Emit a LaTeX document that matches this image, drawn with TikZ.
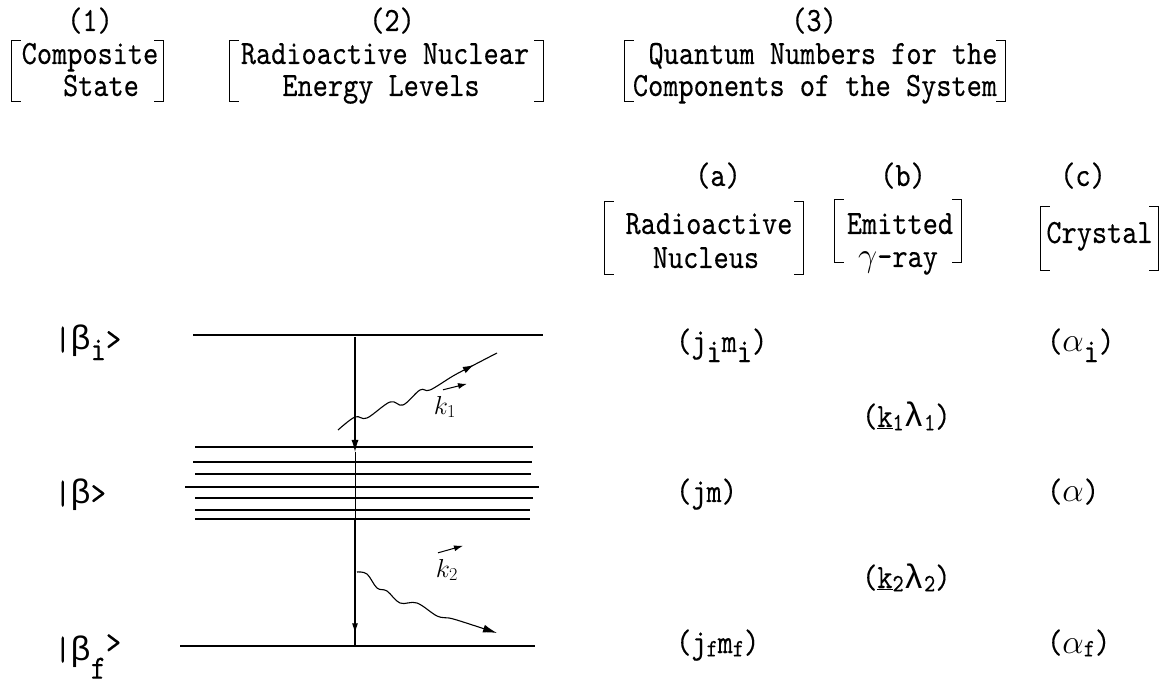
\RequirePackage{fix-cm}
\documentclass[tikz,border=0pt]{standalone}
\usepackage{fontspec}
\newfontfamily\tw{lmmono10-regular.otf}[FakeStretch=0.85,FakeBold=0.25]
\newfontfamily\grk{Liberation Mono}
\usetikzlibrary{arrows.meta,decorations.markings}
\newcommand\lowr[1]{\raisebox{-0.3em}{#1}}
\newcommand\lows[1]{\raisebox{-0.1em}{\fontsize{25}{25}\selectfont #1}}
\newcommand\drawbrk[1]{%
  \draw[brk] ([xshift=9pt]#1.north west) -- (#1.north west) -- (#1.south west) -- ([xshift=9pt]#1.south west);
  \draw[brk] ([xshift=-9pt]#1.north east) -- (#1.north east) -- (#1.south east) -- ([xshift=-9pt]#1.south east);}
\begin{document}
\begin{tikzpicture}[x=1pt,y=-1pt,
  tx/.style={font=\tw\fontsize{34}{34}\selectfont, inner sep=0pt, anchor=base},
  bx/.style={inner sep=0pt, minimum width=#1},
  brk/.style={line width=1pt},
  lvl/.style={line width=1.6pt},
  lvlc/.style={line width=2.1pt},
  trans/.style={line width=1.1pt},
  wave/.style={line width=1.1pt},
  hand/.style={font=\fontsize{26}{26}\selectfont, inner sep=0pt},
]
\useasboundingbox (0,0) rectangle (1171,684);

% ---- headers
\node[tx] (h1) at (90,31) {(1)};
\node[bx=151pt, minimum height=60pt] (b1) at (87.5,71) {};
\drawbrk{b1}
\node[tx] (b1a) at (90,64) {Composite};
\node[tx] (b1b) at (101,96) {State};

\node[tx] (h2) at (392,31) {(2)};
\node[bx=313pt, minimum height=60pt] (b2) at (386.5,71) {};
\drawbrk{b2}
\node[tx] (b2a) at (385,64) {Radioactive Nuclear};
\node[tx] (b2b) at (381,96) {Energy Levels};

\node[tx] (h3) at (814,31) {(3)};
\node[bx=380pt, minimum height=60pt] (b3) at (815,71) {};
\drawbrk{b3}
\node[tx] (b3a) at (823,64) {Quantum Numbers for the};
\node[tx] (b3b) at (815,96) {Components of the System};

% ---- column headers
\node[tx] (ha) at (718,186) {(a)};
\node[bx=198pt, minimum height=72pt] (ba) at (704,238) {};
\drawbrk{ba}
\node[tx] (baa) at (709,234) {Radioactive};
\node[tx] (bab) at (706,268) {Nucleus};

\node[tx] (hb) at (903,186) {(b)};
\node[bx=126pt, minimum height=62pt] (bb) at (898,231) {};
\drawbrk{bb}
\node[tx] (bba) at (900,234) {Emitted};
\node[tx] (bbb) at (898,267) {$\gamma$-ray};

\node[tx] (hc) at (1083,186) {(c)};
\node[bx=117pt, minimum height=63pt] (bc) at (1099.5,238.5) {};
\drawbrk{bc}
\node[tx] (bca) at (1099.5,243) {Crystal};

% ---- state labels
\node[tx, anchor=base west] (si) at (55,350) {|{\grk β}\lowr{i}>};
\node[tx, anchor=base west] (sm) at (55,504) {|{\grk β}>};
\node[tx, anchor=base west] (sf) at (55,660) {|{\grk β}\raisebox{-0.55em}{f}\raisebox{0.2em}{>}};

% ---- quantum numbers
\node[tx, anchor=base west] (ji) at (676,352) {(j\lowr{i}m\lowr{i})};
\node[tx, anchor=base west] (ai) at (1047,352) {($\alpha$\lowr{i})};
\node[tx, anchor=base west] (k1) at (862,427) {(\underline{k}\lows{1}{\grk λ}\lows{1})};
\node[tx, anchor=base west] (jm) at (676,502) {(jm)};
\node[tx, anchor=base west] (am) at (1047,502) {($\alpha$)};
\node[tx, anchor=base west] (k2) at (862,588) {(\underline{k}\lows{2}{\grk λ}\lows{2})};
\node[tx, anchor=base west] (jf) at (676,653) {(j\lows{f}m\lows{f})};
\node[tx, anchor=base west] (af) at (1047,653) {($\alpha$\lows{f})};

% ---- energy levels
\coordinate (Li) at (193,335); \coordinate (Ri) at (543,335);
\draw[lvl] (Li) -- (Ri);
\foreach \y/\a/\b [count=\n] in {447/195/533, 462/193/532, 474/195/531, 487/185/539, 498/195/533, 510/195/530} {
  \coordinate (cl\n) at (\a,\y); \coordinate (cr\n) at (\b,\y);
  \draw[lvlc] (cl\n) -- (cr\n);
}
\coordinate (cl7) at (195,519); \coordinate (cr7) at (530,519);
\draw[line width=1.3pt] (cl7) -- (cr7);
\coordinate (Lf) at (180,646); \coordinate (Rf) at (535,646);
\draw[lvl] (Lf) -- (Rf);

% ---- transitions
\coordinate (t1) at (355,337);
\coordinate (t2) at (355,452);
\coordinate (t3) at (355,519);
\coordinate (t4) at (355,646);
\draw[trans, -{Latex[length=12pt,width=7pt]}] (t1) -- (t2);
\draw[line width=0.7pt] (t2) -- (t3);
\draw[trans, postaction={decorate}, decoration={markings, mark=at position 0.9 with {\arrow{Latex[length=10pt,width=6pt]}}}] (t3) -- (t4);

% ---- photon 1
\coordinate (g1s) at (338,430);
\coordinate (g1e) at (497,353);
\draw[wave, postaction={decorate}, decoration={markings, mark=at position 0.86 with {\arrow{Latex[length=11pt,width=7pt]}}}]
  plot[smooth, tension=0.6] coordinates {(g1s) (355,417) (367,418) (390,402) (403,405) (420,390) (430,390) (453,376) (470,367) (g1e)};
\node[hand] (kl1) at (445,407) {$k_1$};
\draw[line width=1pt, -{Latex[length=9pt,width=6pt]}] ([shift={(-2,-6)}]kl1.north) -- ([shift={(22,-12)}]kl1.north);

% ---- photon 2
\coordinate (g2s) at (357,572);
\coordinate (g2e) at (497,633);
\draw[wave, -{Latex[length=14pt,width=8pt]}]
  plot[smooth, tension=0.6] coordinates {(g2s) (367,574) (377,588) (387,591) (400,603) (417,603) (437,616) (449,618) (460,621) (g2e)};
\node[hand] (kl2) at (447,570) {$k_2$};
\draw[line width=1pt, -{Latex[length=9pt,width=6pt]}] ([shift={(-9,-6)}]kl2.north) -- ([shift={(16,-13)}]kl2.north);
\end{tikzpicture}
\end{document}
